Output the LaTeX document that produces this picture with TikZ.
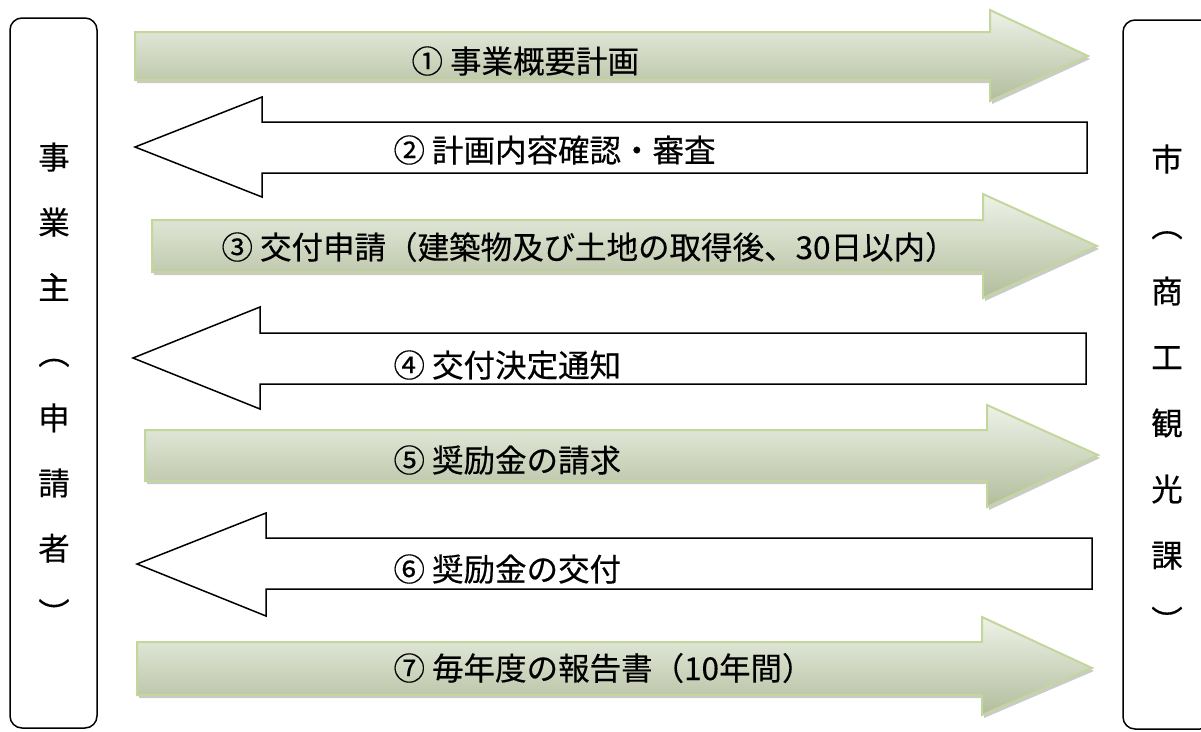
\documentclass[tikz,border=0pt]{standalone}
\usepackage{fontspec}
\setmainfont{Noto Sans CJK JP}[FakeBold=0.35]
\usetikzlibrary{shadows}

\definecolor{sendedge}{RGB}{195,214,155}
\definecolor{sendtop}{RGB}{238,242,232}
\definecolor{sendmid}{RGB}{218,226,206}
\definecolor{sendbot}{RGB}{178,189,156}

\begin{document}
\begin{tikzpicture}[x=1pt, y=-1pt, line join=miter,
    party/.style={draw, line width=1.5pt, rounded corners=12pt},
    sendarrow/.style={draw=sendedge, line width=2pt, top color=sendtop, middle color=sendmid, bottom color=sendbot,
        drop shadow={shadow xshift=2pt, shadow yshift=-3pt, opacity=0.35, fill=black!60}},
    replyarrow/.style={draw, line width=1.5pt, fill=white},
    step label/.style={anchor=base west, font=\fontsize{31.5}{31.5}\selectfont},
    side char/.style={anchor=base, font=\fontsize{31.5}{31.5}\selectfont}]

    \useasboundingbox (0,0) rectangle (1201,731);

    % The two parties on the left and the right
    \node (applicant) [party, minimum width=87pt, minimum height=710pt] at (53.5,373) {};
    \node (city) [party, minimum width=89pt, minimum height=709pt] at (1167.5,374.5) {};

    \foreach \ch [count=\i from 0] in {事,業,主,︵,申,請,者,︶}
        \node (a\i) [side char] at (54,169+65.2*\i) {\ch};
    \foreach \ch [count=\i from 0] in {市,︵,商,工,観,光,課,︶}
        \node (c\i) [side char] at (1167,171+66*\i) {\ch};

    % Arrows from the applicant to the city
    \path[sendarrow] (135,32) -- (990,32) -- (990,10) -- (1088,56) -- (990,101) -- (990,80) -- (135,80) -- cycle;
    \path[sendarrow] (152,220) -- (983,220) -- (983,194) -- (1097,246) -- (983,298) -- (983,272) -- (152,272) -- cycle;
    \path[sendarrow] (145,430) -- (987,430) -- (987,405) -- (1098,455) -- (987,507) -- (987,481) -- (145,481) -- cycle;
    \path[sendarrow] (137,642) -- (982,642) -- (982,617) -- (1092,668) -- (982,715) -- (982,695) -- (137,695) -- cycle;

    % Arrows from the city back to the applicant
    \path[replyarrow] (1087,122) -- (262,122) -- (262,97) -- (135,147) -- (262,197) -- (262,173) -- (1087,173) -- cycle;
    \path[replyarrow] (1086,333) -- (260,333) -- (260,307) -- (133,358) -- (260,409) -- (260,384) -- (1086,384) -- cycle;
    \path[replyarrow] (1092,538) -- (266,538) -- (266,513) -- (137,564) -- (266,616) -- (266,589) -- (1092,589) -- cycle;

    % Step labels
    \node (s1) [step label] at (408,73) {① 事業概要計画};
    \node (s2) [step label] at (390,162) {② 計画内容確認・審査};
    \node (s3) [step label] at (218,259) {③ 交付申請（建築物及び土地の取得後、30日以内）};
    \node (s4) [step label] at (390,377) {④ 交付決定通知};
    \node (s5) [step label] at (390,472) {⑤ 奨励金の請求};
    \node (s6) [step label] at (390,581) {⑥ 奨励金の交付};
    \node (s7) [step label] at (390,680) {⑦ 毎年度の報告書（10年間）};
\end{tikzpicture}
\end{document}
